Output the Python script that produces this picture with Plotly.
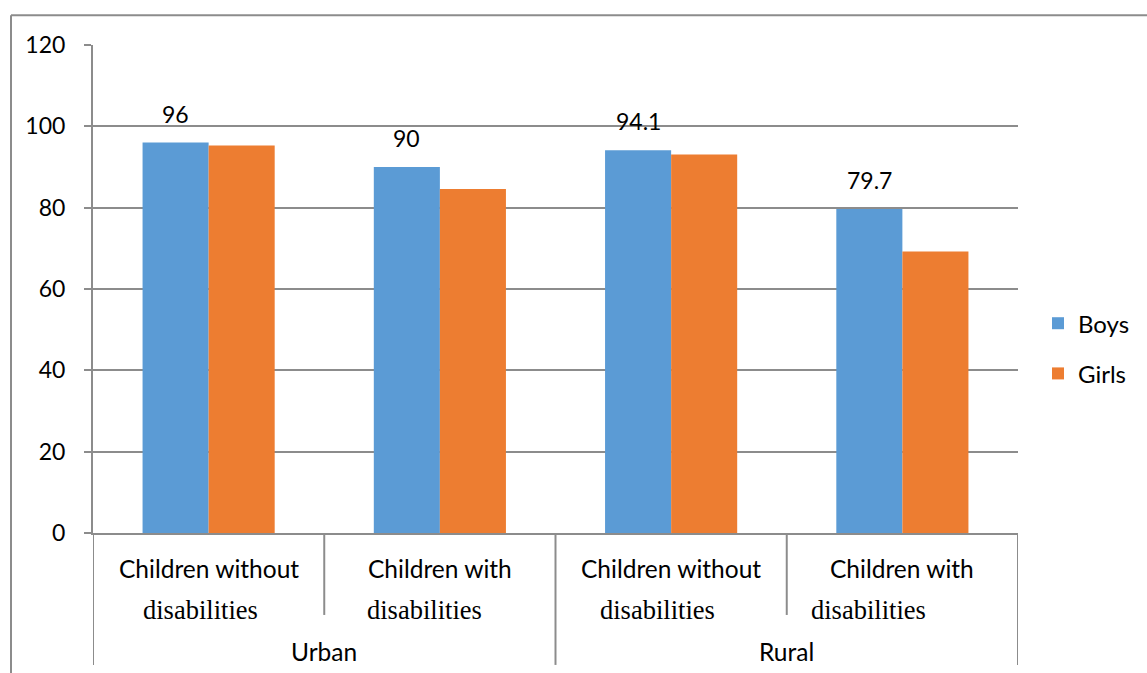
import plotly.graph_objects as go

# ---- data ----
areas = ["Urban", "Rural"]
group_line1 = ["Children without", "Children with", "Children without", "Children with"]
group_line2 = ["disabilities", "disabilities", "disabilities", "disabilities"]
categories = ["Urban - without", "Urban - with", "Rural - without", "Rural - with"]
boys = [96, 90, 94.1, 79.7]
girls = [95.3, 84.6, 93.1, 69.2]
y_ticks = [0, 20, 40, 60, 80, 100, 120]

# ---- style ----
BLUE = "#5B9BD5"
ORANGE = "#ED7D31"
GRAY = "#8C8C8C"
SANS = "Lato"
SERIF = "Liberation Serif"
FS = 23
CAT_FS = 24.5

fig = go.Figure()
fig.add_trace(go.Bar(x=categories, y=boys, name="Boys", marker_color=BLUE,
                     marker_line_width=0, legendgroup="b"))
fig.add_trace(go.Bar(x=categories, y=girls, name="Girls", marker_color=ORANGE,
                     marker_line_width=0, legendgroup="g"))

annotations = []
# data labels above the Boys bars
for i, v in enumerate(boys):
    annotations.append(dict(x=i, y=v, xref="x", yref="y", text=str(v),
                            showarrow=False, xshift=-33, yshift=13,
                            yanchor="bottom", font=dict(family=SANS, size=FS, color="#000")))

line2_shift = [-8, -15, -14, -34]
for i in range(len(categories)):
    annotations.append(dict(x=i, y=0, xref="x", yref="paper", text=group_line1[i],
                            showarrow=False, yshift=-35, yanchor="middle",
                            font=dict(family=SANS, size=CAT_FS, color="#000")))
    annotations.append(dict(x=i, y=0, xref="x", yref="paper", text=group_line2[i],
                            showarrow=False, xshift=line2_shift[i], yshift=-77,
                            yanchor="middle", font=dict(family=SERIF, size=26.5, color="#000")))
for j, a in enumerate(areas):
    annotations.append(dict(x=0.5 + 2 * j, y=0, xref="x", yref="paper", text=a,
                            showarrow=False, yshift=-118, yanchor="middle",
                            font=dict(family=SANS, size=CAT_FS, color="#000")))

shapes = []
# category separators
for k, b in enumerate([-0.5, 0.5, 1.5, 2.5, 3.5]):
    long_sep = k % 2 == 0
    shapes.append(dict(type="line", xref="x", yref="paper", x0=b, x1=b, y0=0,
                       y1=(-132 if long_sep else -82) / 488.3,
                       line=dict(color=GRAY, width=2)))
# outer frame (top and left)
shapes.append(dict(type="line", xref="paper", yref="paper",
                   x0=(11 - 93) / 925, x1=(1147 - 93) / 925,
                   y0=(533 - 15) / 488.3, y1=(533 - 15) / 488.3,
                   line=dict(color=GRAY, width=2)))
shapes.append(dict(type="line", xref="paper", yref="paper",
                   x0=(11 - 93) / 925, x1=(11 - 93) / 925,
                   y0=(533 - 15) / 488.3, y1=(533 - 673) / 488.3,
                   line=dict(color=GRAY, width=2)))

fig.update_layout(
    width=1147, height=673,
    margin=dict(l=93, r=129, t=45, b=140, autoexpand=False),
    paper_bgcolor="white", plot_bgcolor="white",
    barmode="group", bargap=0.4286, bargroupgap=0,
    font=dict(family=SANS, size=FS, color="#000"),
    xaxis=dict(type="category", showticklabels=False, showline=True,
               linecolor=GRAY, linewidth=2, showgrid=False, ticks="",
               range=[-0.5, 3.5]),
    yaxis=dict(range=[0, 120], tickvals=y_ticks, showgrid=True, gridcolor=GRAY,
               gridwidth=2, showline=True, linecolor=GRAY, linewidth=2,
               ticks="outside", ticklen=7, tickcolor=GRAY, tickwidth=2,
               ticklabelstandoff=14, zeroline=False,
               tickfont=dict(family=SANS, size=FS, color="#000")),
    legend=dict(x=(1038 - 93) / 925, xanchor="left", y=(533 - 348.5) / 488.3,
                yanchor="middle", traceorder="grouped", tracegroupgap=16,
                font=dict(family=SANS, size=24, color="#000"),
                bgcolor="rgba(0,0,0,0)"),
    annotations=annotations,
    shapes=shapes,
    showlegend=True,
)

fig.write_html("out.html")
